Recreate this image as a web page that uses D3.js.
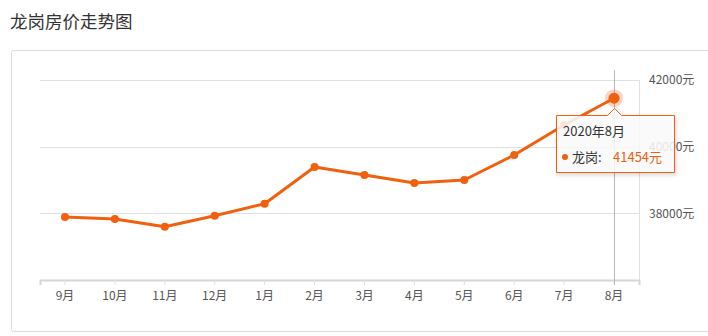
<!DOCTYPE html>
<html>
<head>
<meta charset="utf-8">
<script src="https://cdn.jsdelivr.net/npm/d3@7"></script>
<style>
  body { margin: 0; background: #fff; font-family: "Noto Sans CJK SC", "Noto Sans", sans-serif; }
  svg { display: block; }
</style>
</head>
<body>
<svg width="708" height="336"></svg>
<script>
// data
var months = ["9月", "10月", "11月", "12月", "1月", "2月", "3月", "4月", "5月", "6月", "7月", "8月"];
var prices = [37890, 37830, 37600, 37930, 38290, 39390, 39150, 38910, 39000, 39750, 40650, 41454];
var yTicks = [38000, 40000, 42000];
var hoverIndex = 11;
var hoverLabel = "2020年8月";
var seriesName = "龙岗";

var orange = "#f0600f";

var svg = d3.select("svg"),
    margin = {top: 80, right: 69, bottom: 56, left: 40},
    width = +svg.attr("width") - margin.left - margin.right,
    height = +svg.attr("height") - margin.top - margin.bottom;

// title
svg.append("text")
    .attr("x", 10)
    .attr("y", 28)
    .style("font-size", "17.5px")
    .style("fill", "#333")
    .text("龙岗房价走势图");

// outer panel
svg.append("rect")
    .attr("x", 11.5)
    .attr("y", 50.5)
    .attr("width", 720)
    .attr("height", 281)
    .attr("rx", 2)
    .style("fill", "none")
    .style("stroke", "#dcdcdc");

var x = d3.scaleBand().domain(months).range([0, width]);
var y = d3.scaleLinear().domain([36000, 42000]).range([height, 0]);

var g = svg.append("g")
    .attr("transform", "translate(" + margin.left + "," + margin.top + ")");

// horizontal grid
g.append("g")
    .selectAll("line")
    .data(yTicks)
    .join("line")
    .attr("x1", 0)
    .attr("x2", width)
    .attr("y1", function(d) { return Math.round(y(d)) + 0.5; })
    .attr("y2", function(d) { return Math.round(y(d)) + 0.5; })
    .style("stroke", "#e0e0e0");

// right border of plot
g.append("line")
    .attr("x1", width + 0.5).attr("x2", width + 0.5)
    .attr("y1", 0).attr("y2", height)
    .style("stroke", "#e0e0e0");

// y axis labels on the right
g.append("g")
    .selectAll("text")
    .data(yTicks)
    .join("text")
    .attr("x", width + 10)
    .attr("y", function(d) { return y(d); })
    .attr("dy", "0.35em")
    .style("font-size", "12px")
    .style("fill", "#555")
    .text(function(d) { return d + "元"; });

// x axis
var xAxis = g.append("g")
    .attr("transform", "translate(0," + height + ")")
    .call(d3.axisBottom(x).tickSize(5).tickPadding(6));
xAxis.select(".domain").style("stroke", "#d6d6d6").style("stroke-width", 2);
xAxis.selectAll(".tick line").style("stroke", "#e0e0e0");
xAxis.selectAll(".tick text")
    .style("font-size", "12px")
    .style("fill", "#555")
    .style("font-family", "\"Noto Sans CJK SC\", sans-serif");

var cx = function(i) { return x(months[i]) + x.bandwidth() / 2; };

// crosshair
g.append("line")
    .attr("x1", Math.round(cx(hoverIndex)) + 0.5)
    .attr("x2", Math.round(cx(hoverIndex)) + 0.5)
    .attr("y1", -10)
    .attr("y2", height + 5)
    .style("stroke", "#b8b8b8");

// line
var line = d3.line()
    .x(function(d, i) { return cx(i); })
    .y(function(d) { return y(d); });

g.append("path")
    .datum(prices)
    .attr("d", line)
    .style("fill", "none")
    .style("stroke", orange)
    .style("stroke-width", 3)
    .style("stroke-linejoin", "round");

g.append("g")
    .selectAll("circle")
    .data(prices)
    .join("circle")
    .attr("cx", function(d, i) { return cx(i); })
    .attr("cy", function(d) { return y(d); })
    .attr("r", 4)
    .style("fill", orange);

// hover halo
var hx = cx(hoverIndex), hy = y(prices[hoverIndex]);
g.append("circle")
    .attr("cx", hx).attr("cy", hy).attr("r", 9)
    .style("fill", orange).style("opacity", 0.25);
g.append("circle")
    .attr("cx", hx).attr("cy", hy).attr("r", 5.5)
    .style("fill", orange);

// tooltip
var tipL = 516, tipT = 35, tipW = 118, tipH = 57;
var tip = g.append("g");
var ax = hx;
tip.append("path")
    .attr("d", "M" + tipL + "," + tipT +
        "H" + (ax - 7) + "L" + ax + "," + (tipT - 7) + "L" + (ax + 7) + "," + tipT +
        "H" + (tipL + tipW) + "V" + (tipT + tipH) + "H" + tipL + "Z")
    .attr("transform", "translate(0.5,0.5)")
    .style("fill", "rgba(255,255,255,0.85)")
    .style("stroke", orange)
    .style("stroke-width", 1)
    .style("filter", "drop-shadow(1px 2px 2px rgba(0,0,0,0.18))");

tip.append("text")
    .attr("x", tipL + 7)
    .attr("y", tipT + 21)
    .style("font-size", "13px")
    .style("fill", "#333")
    .text(hoverLabel);

tip.append("circle")
    .attr("cx", tipL + 9)
    .attr("cy", tipT + 42)
    .attr("r", 3)
    .style("fill", orange);

tip.append("text")
    .attr("x", tipL + 16)
    .attr("y", tipT + 47)
    .style("font-size", "13px")
    .style("fill", "#333")
    .text(seriesName + ":");

tip.append("text")
    .attr("x", tipL + 57)
    .attr("y", tipT + 47)
    .style("font-size", "13px")
    .style("fill", orange)
    .text(prices[hoverIndex] + "元");
</script>
</body>
</html>
